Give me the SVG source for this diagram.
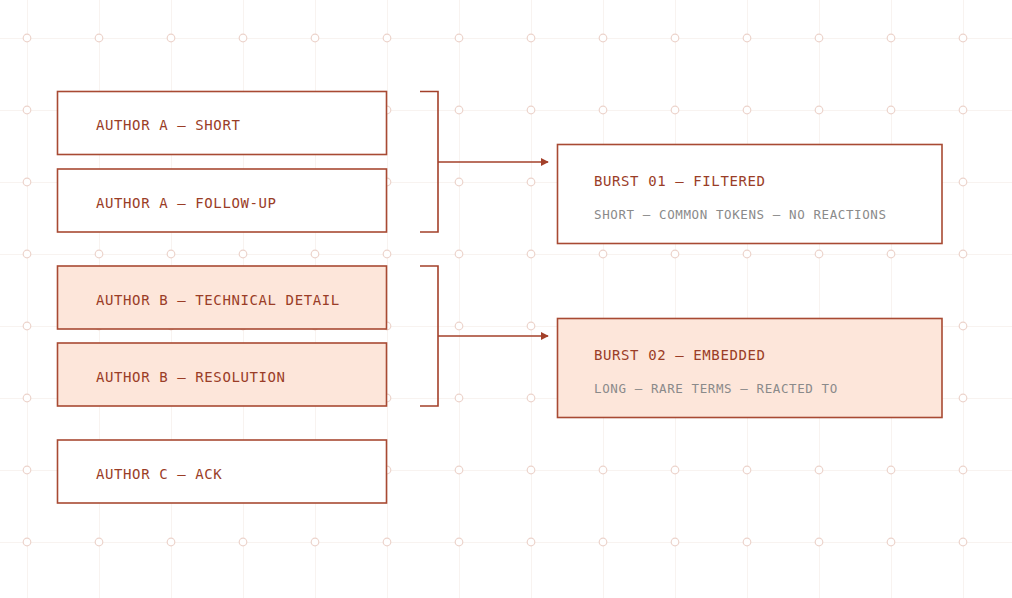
<svg xmlns="http://www.w3.org/2000/svg" width="1012" height="598" viewBox="0 0 1012 598">
<defs>
<pattern id="grid" x="27" y="38" width="72" height="72" patternUnits="userSpaceOnUse">
<path d="M0 0V72M0 0H72" stroke="#f6efec" stroke-width="1.5" fill="none"/>
</pattern>
<pattern id="dots" x="-9" y="2" width="72" height="72" patternUnits="userSpaceOnUse">
<circle cx="36" cy="36" r="3.8" fill="#fff" stroke="#ecd3cb" stroke-width="1.2"/>
</pattern>
<marker id="arr" viewBox="0 0 10 10" refX="9" refY="5" markerWidth="8" markerHeight="8" markerUnits="userSpaceOnUse" orient="auto">
<path d="M0 0L10 5L0 10Z" fill="#a3402a"/>
</marker>
</defs>
<style>
.box{stroke:#a84a33;stroke-width:1.6;fill:#fff}
.hot{fill:#fde6da}
.lbl{font-family:"DejaVu Sans Mono","Liberation Mono",monospace;font-size:14px;letter-spacing:0.6px;fill:#9a3d27}
.sub{font-family:"DejaVu Sans Mono","Liberation Mono",monospace;font-size:12.5px;letter-spacing:0.6px;fill:#8a8a8a}
.con{stroke:#a3402a;stroke-width:1.6;fill:none}
</style>
<rect width="1012" height="598" fill="#fff"/>
<rect width="1012" height="598" fill="url(#grid)"/>
<rect width="1012" height="598" fill="url(#dots)"/>
<g id="author-a-short"><rect class="box" x="57.5" y="91.5" width="329" height="63"/><text class="lbl" x="96" y="130">AUTHOR A — SHORT</text></g>
<g id="author-a-followup"><rect class="box" x="57.5" y="169" width="329" height="63"/><text class="lbl" x="96" y="208">AUTHOR A — FOLLOW-UP</text></g>
<g id="author-b-technical"><rect class="box hot" x="57.5" y="266" width="329" height="63"/><text class="lbl" x="96" y="305">AUTHOR B — TECHNICAL DETAIL</text></g>
<g id="author-b-resolution"><rect class="box hot" x="57.5" y="343" width="329" height="63"/><text class="lbl" x="96" y="382">AUTHOR B — RESOLUTION</text></g>
<g id="author-c-ack"><rect class="box" x="57.5" y="440" width="329" height="63"/><text class="lbl" x="96" y="479">AUTHOR C — ACK</text></g>
<g id="burst-01"><rect class="box" x="557.5" y="144.5" width="384.5" height="99"/><text class="lbl" x="594" y="186">BURST 01 — FILTERED</text><text class="sub" x="594" y="219">SHORT — COMMON TOKENS — NO REACTIONS</text></g>
<g id="burst-02"><rect class="box hot" x="557.5" y="318.5" width="384.5" height="99"/><text class="lbl" x="594" y="360">BURST 02 — EMBEDDED</text><text class="sub" x="594" y="393">LONG — RARE TERMS — REACTED TO</text></g>
<g id="connectors">
<path class="con" d="M420 91.5H438V232H420"/>
<path class="con" d="M438 162H548" marker-end="url(#arr)"/>
<path class="con" d="M420 266H438V406H420"/>
<path class="con" d="M438 336H548" marker-end="url(#arr)"/>
</g>
</svg>
